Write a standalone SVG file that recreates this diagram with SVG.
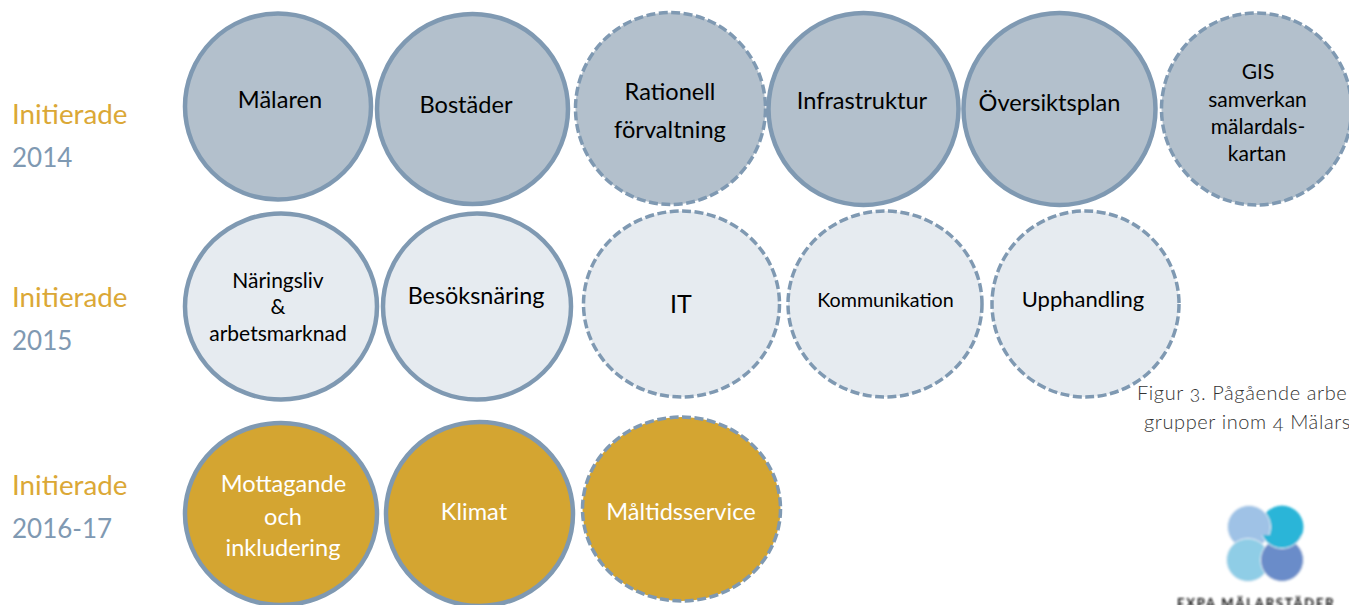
<svg xmlns="http://www.w3.org/2000/svg" width="1349" height="605" viewBox="0 0 1349 605">
<style>
text{font-family:Lato,"Noto Sans",sans-serif}
.t{text-anchor:middle;fill:#000}
.w{fill:#fff}
.s20{font-size:23.600px}
.s18{font-size:21px}
.a{fill:#b3c0cc}.b{fill:#e6ebf0}.c{fill:#d4a531}
ellipse{stroke:#7f99b2;stroke-width:4.5}
.d{stroke-dasharray:9 3.500;stroke-width:3.500}
.y{font-size:27.800px;fill:#dba836}
.g{font-size:26px;fill:#7f99b2}
.cap{font-size:20px;font-weight:300;fill:#333;letter-spacing:.6px;font-variant-numeric:oldstyle-nums}
</style>
<defs><filter id="bl" x="-10%" y="-10%" width="120%" height="120%"><feGaussianBlur stdDeviation="0.9"/></filter>
<clipPath id="low"><rect x="1255" y="535" width="60" height="30"/></clipPath></defs>
<rect width="1349" height="605" fill="#fff"/>
<g id="labels">
<text class="y" x="12" y="124">Initierade</text><text class="g" x="12" y="167">2014</text>
<text class="y" x="12" y="307">Initierade</text><text class="g" x="12" y="350">2015</text>
<text class="y" x="12" y="495">Initierade</text><text class="g" x="12" y="538">2016-17</text>
</g>
<g id="connectors"></g>
<g id="n-malaren"><ellipse class="a" cx="278" cy="106.500" rx="93" ry="93"/><text class="t s20" x="280" y="108">Mälaren</text></g>
<g id="n-bostader"><ellipse class="a" cx="472.500" cy="109" rx="95.500" ry="95"/><text class="t s20" x="466" y="113">Bostäder</text></g>
<g id="n-rationell"><ellipse class="a d" cx="670.500" cy="108.500" rx="95" ry="96"/><text class="t s20" x="670" y="100">Rationell</text><text class="t s20" x="670" y="138">förvaltning</text></g>
<g id="n-infra"><ellipse class="a" cx="863.500" cy="109" rx="95" ry="96"/><text class="t s20" x="862" y="109">Infrastruktur</text></g>
<g id="n-oversikt"><ellipse class="a" cx="1059.500" cy="109" rx="96" ry="96"/><text class="t s20" x="1049.500" y="111">Översiktsplan</text></g>
<g id="n-gis"><ellipse class="a d" cx="1256.500" cy="109" rx="95" ry="96"/><text class="t s18" x="1258" y="79">GIS</text><text class="t s18" x="1257.500" y="107">samverkan</text><text class="t s18" x="1258" y="134">mälardals-</text><text class="t s18" x="1257" y="161">kartan</text></g>
<g id="n-naringsliv"><ellipse class="b" cx="281" cy="306.500" rx="96" ry="93"/><text class="t s18" x="278" y="288">Näringsliv</text><text class="t s18" x="278" y="314">&amp;</text><text class="t s18" x="278" y="341">arbetsmarknad</text></g>
<g id="n-besok"><ellipse class="b" cx="477" cy="306.500" rx="94" ry="93"/><text class="t" style="font-size:23.400px" x="476" y="304">Besöksnäring</text></g>
<g id="n-it"><ellipse class="b d" cx="681.500" cy="304" rx="98" ry="93"/><text class="t" style="font-size:25px" x="681" y="313">IT</text></g>
<g id="n-komm"><ellipse class="b d" cx="885" cy="304" rx="97" ry="93"/><text class="t" style="font-size:19.700px" x="885.500" y="307">Kommunikation</text></g>
<g id="n-upph"><ellipse class="b d" cx="1085.500" cy="304" rx="93.500" ry="93"/><text class="t" style="font-size:22px" x="1083" y="307">Upphandling</text></g>
<g id="n-mott"><ellipse class="c" cx="281" cy="514" rx="96" ry="91"/><text class="t s20 w" x="283.500" y="492">Mottagande</text><text class="t s20 w" x="283" y="525">och</text><text class="t s20 w" x="283" y="556">inkludering</text></g>
<g id="n-klimat"><ellipse class="c" cx="479.500" cy="514" rx="93.500" ry="92"/><text class="t s20 w" x="474" y="520">Klimat</text></g>
<g id="n-maltid"><ellipse class="c d" cx="681.500" cy="509" rx="99" ry="92"/><text class="t s20 w" x="681" y="520">Måltidsservice</text></g>
<g id="caption"><text class="cap" x="1137" y="400">Figur 3. Pågående arbe</text><text class="cap" x="1144" y="429">grupper inom 4 Mälars</text></g>
<g id="logo" filter="url(#bl)">
<circle cx="1282" cy="527" r="21.500" fill="#29b5d8"/>
<circle cx="1249" cy="527" r="21.500" fill="#9fc2e6" stroke="#e8f0f6" stroke-width="1"/>
<circle cx="1248" cy="560" r="21.500" fill="#8fcde6" stroke="#e8f0f6" stroke-width="1"/>
<circle cx="1282" cy="560" r="21.500" fill="#6a8cc9" stroke="#e8f0f6" stroke-width="1"/>
<circle cx="1282" cy="527" r="21.500" fill="#29b5d8" stroke="#e8f0f6" stroke-width="1" clip-path="url(#low)"/>
<text x="1177" y="608" style="font-size:13px;font-weight:700;letter-spacing:1.800px" fill="#111">EXPA MÄLARSTÄDER</text>
</g>
</svg>
